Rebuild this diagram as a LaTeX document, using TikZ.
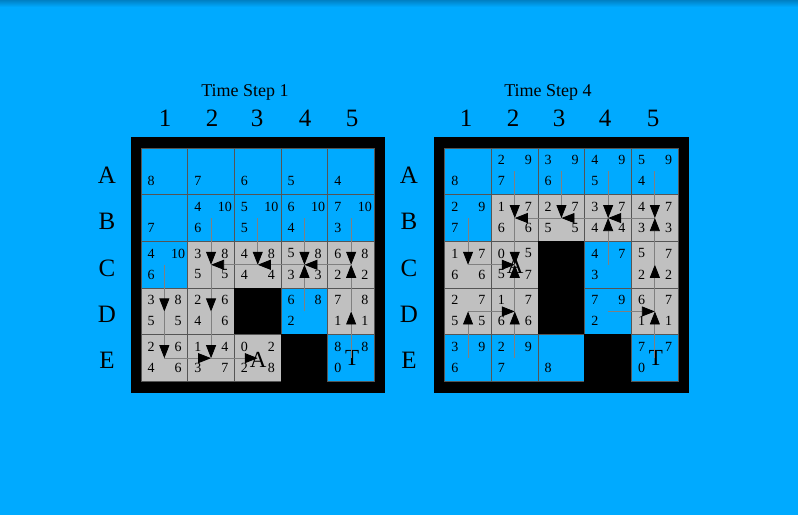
\documentclass[tikz,border=0pt]{standalone}
\usepackage{fontspec}
\setmainfont{Liberation Serif}
\usepackage{tikz}
\usetikzlibrary{positioning,arrows.meta,calc}
\usepackage{xcolor}
\definecolor{skyblue}{HTML}{00AAFF}
\definecolor{topblue}{HTML}{0080C4}
\definecolor{cellgray}{HTML}{C0C0C0}
\definecolor{gridline}{HTML}{555555}
\definecolor{pathgray}{HTML}{808080}

% cella della griglia: nome, colonna, riga, stile, valori (alto sx, alto dx, basso sx, basso dx)
\newcommand{\qcell}[8]{%
    \node[#4] (#1) at ({\gridX+(#2-0.5)*\cellSz},{\gridY+(#3-0.5)*\cellSz}) {};
    \node[num] (#1-tl) at ($(#1.center)+(-13.3,-11.3)$) {#5};
    \node[num] (#1-tr) at ($(#1.center)+(13.7,-11.3)$) {#6};
    \node[num] (#1-bl) at ($(#1.center)+(-13.3,9.7)$) {#7};
    \node[num] (#1-br) at ($(#1.center)+(13.7,9.7)$) {#8};
}

\begin{document}
\begin{tikzpicture}[x=1pt, y=-1pt,
    cellbox/.style={rectangle, draw=gridline, line width=0.8pt, minimum size=46.7pt, inner sep=0pt},
    bluecell/.style={cellbox, fill=skyblue},
    graycell/.style={cellbox, fill=cellgray},
    wallcell/.style={cellbox, fill=black, draw=black},
    num/.style={inner sep=0pt, font=\fontsize{14}{14}\selectfont},
    bigmark/.style={inner sep=0pt, font=\fontsize{23}{23}\selectfont},
    colhead/.style={inner sep=0pt, font=\fontsize{25}{25}\selectfont},
    steptitle/.style={inner sep=0pt, font=\fontsize{18}{18}\selectfont},
    move/.style={draw=pathgray, line width=0.8pt, -{Triangle[length=13pt, width=10pt, color=black]}}
]
    \def\cellSz{46.7}

    % Sfondo
    \useasboundingbox (0,0) rectangle (798,515);
    \fill[skyblue] (0,0) rectangle (798,515);
    \shade[top color=topblue, bottom color=skyblue] (0,0) rectangle (798,7);

    % ---------------- Griglia 1 ----------------
    \def\gridX{141}
    \def\gridY{148}
    \fill[black] (130.5,137) rectangle (385,393);

    \qcell{g1-A1}{1}{1}{bluecell}{}{}{8}{}
    \qcell{g1-A2}{2}{1}{bluecell}{}{}{7}{}
    \qcell{g1-A3}{3}{1}{bluecell}{}{}{6}{}
    \qcell{g1-A4}{4}{1}{bluecell}{}{}{5}{}
    \qcell{g1-A5}{5}{1}{bluecell}{}{}{4}{}
    \qcell{g1-B1}{1}{2}{bluecell}{}{}{7}{}
    \qcell{g1-B2}{2}{2}{bluecell}{4}{10}{6}{}
    \qcell{g1-B3}{3}{2}{bluecell}{5}{10}{5}{}
    \qcell{g1-B4}{4}{2}{bluecell}{6}{10}{4}{}
    \qcell{g1-B5}{5}{2}{bluecell}{7}{10}{3}{}
    \qcell{g1-C1}{1}{3}{bluecell}{4}{10}{6}{}
    \qcell{g1-C2}{2}{3}{graycell}{3}{8}{5}{5}
    \qcell{g1-C3}{3}{3}{graycell}{4}{8}{4}{4}
    \qcell{g1-C4}{4}{3}{graycell}{5}{8}{3}{3}
    \qcell{g1-C5}{5}{3}{graycell}{6}{8}{2}{2}
    \qcell{g1-D1}{1}{4}{graycell}{3}{8}{5}{5}
    \qcell{g1-D2}{2}{4}{graycell}{2}{6}{4}{6}
    \qcell{g1-D3}{3}{4}{wallcell}{}{}{}{}
    \qcell{g1-D4}{4}{4}{bluecell}{6}{8}{2}{}
    \qcell{g1-D5}{5}{4}{graycell}{7}{8}{1}{1}
    \qcell{g1-E1}{1}{5}{graycell}{2}{6}{4}{6}
    \qcell{g1-E2}{2}{5}{graycell}{1}{4}{3}{7}
    \qcell{g1-E3}{3}{5}{graycell}{0}{2}{2}{8}
    \qcell{g1-E4}{4}{5}{wallcell}{}{}{}{}
    \qcell{g1-E5}{5}{5}{bluecell}{8}{8}{0}{}

    \node[bigmark] (g1-agent) at ($(g1-E3.center)+(0.5,1.5)$) {A};
    \node[bigmark] (g1-goal) at ($(g1-E5.center)+(1,0)$) {T};

    % Intestazioni
    \node[steptitle] (g1-title) at (245,92) {Time Step 1};
    \node[colhead] (g1-c1) at (165,118) {1};
    \node[colhead] (g1-c2) at (212,118) {2};
    \node[colhead] (g1-c3) at (257,118) {3};
    \node[colhead] (g1-c4) at (305,118) {4};
    \node[colhead] (g1-c5) at (352,118) {5};
    \node[colhead] (g1-rA) at (107,175) {A};
    \node[colhead] (g1-rB) at (107,221) {B};
    \node[colhead] (g1-rC) at (107,268) {C};
    \node[colhead] (g1-rD) at (107,314) {D};
    \node[colhead] (g1-rE) at (107,360) {E};

    % Mosse
    \draw[move] (g1-B2.center) -- (g1-C2.center);
    \draw[move] (g1-B3.center) -- (g1-C3.center);
    \draw[move] (g1-B4.center) -- (g1-C4.center);
    \draw[move] (g1-B5.center) -- (g1-C5.center);
    \draw[move] (g1-C3.center) -- (g1-C2.center);
    \draw[move] (g1-C4.center) -- (g1-C3.center);
    \draw[move] (g1-C5.center) -- (g1-C4.center);
    \draw[move] (g1-D4.center) -- (g1-C4.center);
    \draw[move] (g1-D5.center) -- (g1-C5.center);
    \draw[move] (g1-E5.center) -- (g1-D5.center);
    \draw[move] (g1-C1.center) -- (g1-D1.center);
    \draw[move] (g1-D1.center) -- (g1-E1.center);
    \draw[move] (g1-C2.center) -- (g1-D2.center);
    \draw[move] (g1-D2.center) -- (g1-E2.center);
    \draw[move] (g1-E1.center) -- (g1-E2.center);
    \draw[move] (g1-E2.center) -- (g1-E3.center);

    % ---------------- Griglia 2 ----------------
    \def\gridX{444.7}
    \def\gridY{148}
    \fill[black] (434,137) rectangle (689,393);

    \qcell{g2-A1}{1}{1}{bluecell}{}{}{8}{}
    \qcell{g2-A2}{2}{1}{bluecell}{2}{9}{7}{}
    \qcell{g2-A3}{3}{1}{bluecell}{3}{9}{6}{}
    \qcell{g2-A4}{4}{1}{bluecell}{4}{9}{5}{}
    \qcell{g2-A5}{5}{1}{bluecell}{5}{9}{4}{}
    \qcell{g2-B1}{1}{2}{bluecell}{2}{9}{7}{}
    \qcell{g2-B2}{2}{2}{graycell}{1}{7}{6}{6}
    \qcell{g2-B3}{3}{2}{graycell}{2}{7}{5}{5}
    \qcell{g2-B4}{4}{2}{graycell}{3}{7}{4}{4}
    \qcell{g2-B5}{5}{2}{graycell}{4}{7}{3}{3}
    \qcell{g2-C1}{1}{3}{graycell}{1}{7}{6}{6}
    \qcell{g2-C2}{2}{3}{graycell}{0}{5}{5}{7}
    \qcell{g2-C3}{3}{3}{wallcell}{}{}{}{}
    \qcell{g2-C4}{4}{3}{bluecell}{4}{7}{3}{}
    \qcell{g2-C5}{5}{3}{graycell}{5}{7}{2}{2}
    \qcell{g2-D1}{1}{4}{graycell}{2}{7}{5}{5}
    \qcell{g2-D2}{2}{4}{graycell}{1}{7}{6}{6}
    \qcell{g2-D3}{3}{4}{wallcell}{}{}{}{}
    \qcell{g2-D4}{4}{4}{bluecell}{7}{9}{2}{}
    \qcell{g2-D5}{5}{4}{graycell}{6}{7}{1}{1}
    \qcell{g2-E1}{1}{5}{bluecell}{3}{9}{6}{}
    \qcell{g2-E2}{2}{5}{bluecell}{2}{9}{7}{}
    \qcell{g2-E3}{3}{5}{bluecell}{}{}{8}{}
    \qcell{g2-E4}{4}{5}{wallcell}{}{}{}{}
    \qcell{g2-E5}{5}{5}{bluecell}{7}{7}{0}{}

    \node[bigmark] (g2-agent) at ($(g2-C2.center)+(0.5,1.5)$) {A};
    \node[bigmark] (g2-goal) at ($(g2-E5.center)+(1,0)$) {T};

    % Intestazioni
    \node[steptitle] (g2-title) at (548,92) {Time Step 4};
    \node[colhead] (g2-c1) at (466,118) {1};
    \node[colhead] (g2-c2) at (513,118) {2};
    \node[colhead] (g2-c3) at (559,118) {3};
    \node[colhead] (g2-c4) at (605,118) {4};
    \node[colhead] (g2-c5) at (653,118) {5};
    \node[colhead] (g2-rA) at (409,175) {A};
    \node[colhead] (g2-rB) at (409,221) {B};
    \node[colhead] (g2-rC) at (409,268) {C};
    \node[colhead] (g2-rD) at (409,314) {D};
    \node[colhead] (g2-rE) at (409,360) {E};

    % Mosse
    \draw[move] (g2-A2.center) -- (g2-B2.center);
    \draw[move] (g2-A3.center) -- (g2-B3.center);
    \draw[move] (g2-A4.center) -- (g2-B4.center);
    \draw[move] (g2-A5.center) -- (g2-B5.center);
    \draw[move] (g2-B1.center) -- (g2-C1.center);
    \draw[move] (g2-B2.center) -- (g2-C2.center);
    \draw[move] (g2-B3.center) -- (g2-B2.center);
    \draw[move] (g2-B4.center) -- (g2-B3.center);
    \draw[move] (g2-B5.center) -- (g2-B4.center);
    \draw[move] (g2-C4.center) -- (g2-B4.center);
    \draw[move] (g2-C5.center) -- (g2-B5.center);
    \draw[move] (g2-D5.center) -- (g2-C5.center);
    \draw[move] (g2-E5.center) -- (g2-D5.center);
    \draw[move] (g2-D4.center) -- (g2-D5.center);
    \draw[move] (g2-C1.center) -- (g2-C2.center);
    \draw[move] (g2-D2.center) -- (g2-C2.center);
    \draw[move] (g2-D1.center) -- (g2-D2.center);
    \draw[move] (g2-E1.center) -- (g2-D1.center);
    \draw[move] (g2-E2.center) -- (g2-D2.center);
\end{tikzpicture}
\end{document}
